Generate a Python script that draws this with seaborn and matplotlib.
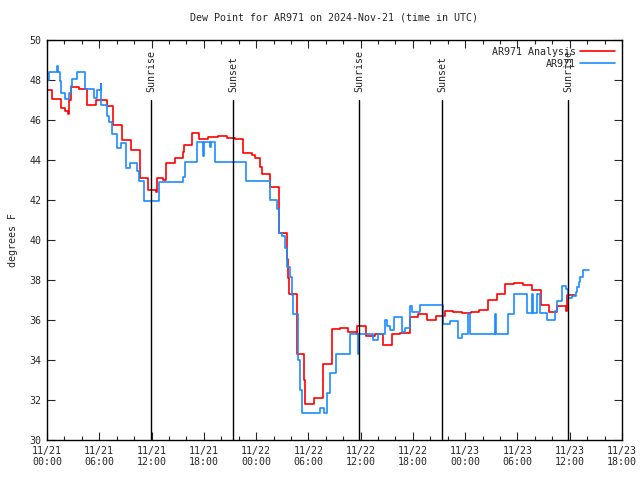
import numpy as np
import pandas as pd
import seaborn as sns
import matplotlib.pyplot as plt
from matplotlib.ticker import MultipleLocator

# hours since 2024-11-21 00:00 UTC, dew point in degrees F
analysis_hours = [0.0, 0.57, 1.57, 2.03, 2.41, 2.56, 2.72, 3.67, 4.56, 5.59, 6.85, 7.61, 8.57,
                  9.68, 10.67, 11.63, 12.48, 12.66, 13.35, 13.66, 14.69, 15.58, 15.73, 16.61,
                  17.48, 18.51, 19.66, 20.70, 21.58, 22.46, 23.50, 23.87, 24.45, 24.65, 25.60,
                  26.63, 27.51, 27.70, 27.78, 28.66, 29.53, 29.61, 30.68, 31.65, 32.68, 33.63,
                  34.58, 35.55, 35.62, 36.62, 37.65, 38.60, 39.56, 40.52, 41.67, 42.62, 43.65,
                  44.65, 45.68, 46.57, 47.60, 48.63, 49.62, 50.65, 51.69, 52.57, 53.60, 54.60,
                  55.63, 56.67, 57.66, 58.51, 59.57, 59.65, 60.61]
analysis_dewpt = [47.5, 47.05, 46.6, 46.45, 46.3, 47.0, 47.65, 47.55, 46.75, 47.0, 46.7, 45.75, 45.0,
                  44.5, 43.1, 42.5, 42.4, 43.1, 43.0, 43.85, 44.1, 44.4, 44.75, 45.35,
                  45.05, 45.15, 45.2, 45.1, 45.05, 44.35, 44.25, 44.1, 43.65, 43.3, 42.65,
                  40.35, 39.05, 38.1, 37.3, 34.3, 33.0, 31.8, 32.1, 33.8, 35.55, 35.6,
                  35.4, 35.3, 35.7, 35.2, 35.3, 34.75, 35.3, 35.35, 36.15, 36.3, 36.0,
                  36.2, 36.45, 36.4, 36.35, 36.4, 36.5, 37.0, 37.3, 37.8, 37.85, 37.75,
                  37.5, 36.75, 36.4, 36.7, 36.45, 37.25, 37.25]

station_hours = [0.0, 0.23, 1.03, 1.11, 1.23, 1.49, 1.61, 2.03, 2.53, 2.75, 2.90, 3.41, 4.33,
                 5.39, 5.70, 6.16, 6.23, 6.92, 7.06, 7.50, 8.00, 8.53, 9.03, 9.53, 10.30,
                 10.56, 11.13, 12.80, 15.65, 15.84, 17.25, 17.85, 17.97, 18.71, 18.88, 19.28,
                 22.84, 25.60, 26.37, 26.63, 26.94, 27.32, 27.58, 27.89, 28.09, 28.27, 28.85,
                 29.04, 29.23, 31.34, 31.83, 32.10, 32.48, 33.17, 34.78, 35.73, 35.85, 37.45,
                 37.99, 38.80, 38.99, 39.37, 39.83, 40.71, 41.09, 41.67, 41.84, 42.81, 45.42,
                 46.26, 47.21, 47.60, 48.36, 48.50, 51.42, 51.55, 52.95, 53.60, 55.13, 55.63,
                 55.78, 56.27, 56.58, 57.42, 58.31, 58.57, 59.08, 59.57, 59.84, 60.22, 60.71,
                 60.88, 61.06, 61.23, 61.48, 62.18]
station_dewpt = [48.0, 48.4, 48.4, 48.7, 48.4, 47.95, 47.35, 47.05, 47.35, 47.7, 48.05, 48.4, 47.55,
                 47.1, 47.5, 47.8, 46.75, 46.2, 45.9, 45.3, 44.6, 44.85, 43.6, 43.85, 43.45,
                 42.95, 41.95, 42.9, 43.15, 43.9, 44.9, 44.2, 44.9, 44.65, 44.9, 43.9,
                 42.95, 42.0, 41.55, 40.35, 40.2, 39.6, 38.65, 38.15, 37.25, 36.3, 34.0,
                 32.5, 31.35, 31.6, 31.35, 32.35, 33.35, 34.3, 35.3, 34.3, 35.3, 35.0,
                 35.3, 36.0, 35.7, 35.5, 36.15, 35.4, 35.6, 36.7, 36.4, 36.75, 35.8,
                 35.95, 35.1, 35.3, 36.3, 35.3, 36.3, 35.3, 36.3, 37.3, 36.35, 37.3,
                 36.35, 37.3, 36.35, 36.0, 36.45, 36.95, 37.7, 37.55, 37.1, 37.2, 37.4,
                 37.65, 37.9, 38.15, 38.5, 38.5]

sunrise_hours = [11.95, 35.85, 59.8]
sunset_hours = [21.35, 45.35]

tick_hours = list(range(0, 67, 6))
tick_labels = ["11/21\n00:00", "11/21\n06:00", "11/21\n12:00", "11/21\n18:00",
               "11/22\n00:00", "11/22\n06:00", "11/22\n12:00", "11/22\n18:00",
               "11/23\n00:00", "11/23\n06:00", "11/23\n12:00", "11/23\n18:00"]

df = pd.concat([
    pd.DataFrame({"hour": analysis_hours, "dewpt": analysis_dewpt, "series": "AR971 Analysis"}),
    pd.DataFrame({"hour": station_hours, "dewpt": station_dewpt, "series": "AR971"}),
])

sns.set_style("ticks")
plt.rcParams["font.family"] = ["DejaVu Sans Mono"]
plt.rcParams["font.size"] = 7.2

fig = plt.figure(figsize=(6.4, 4.8), dpi=100)
ax = fig.add_axes([47 / 640, 40 / 480, 575 / 640, 400 / 480])

sns.lineplot(data=df, x="hour", y="dewpt", hue="series", estimator=None, sort=False,
             palette={"AR971 Analysis": "#ff0000", "AR971": "#1a8cff"},
             drawstyle="steps-post", linewidth=1.2, ax=ax)

for h in sunrise_hours:
    ax.axvline(h, ymin=0, ymax=0.85, color="black", lw=1.0)
    ax.text(h, 47.4, "Sunrise", rotation=90, ha="center", va="bottom", fontsize=7.2)
for h in sunset_hours:
    ax.axvline(h, ymin=0, ymax=0.85, color="black", lw=1.0)
    ax.text(h, 47.4, "Sunset", rotation=90, ha="center", va="bottom", fontsize=7.2)

ax.set_xlim(0, 66)
ax.set_ylim(30, 50)
ax.set_xticks(tick_hours)
ax.set_xticklabels(tick_labels)
ax.xaxis.set_minor_locator(MultipleLocator(2))
ax.set_yticks(np.arange(30, 51, 2))
ax.tick_params(direction="in", top=True, right=True, length=6, width=0.8, labelsize=7.2, pad=4)
ax.tick_params(which="minor", direction="in", top=True, right=False, length=3, width=0.8)
for s in ax.spines.values():
    s.set_linewidth(1.0)
    s.set_color("black")

ax.set_xlabel("")
ax.set_ylabel("degrees F", fontsize=7.2, labelpad=8)
ax.set_title("Dew Point for AR971 on 2024-Nov-21 (time in UTC)", fontsize=7.2, pad=14)

ax.legend(loc="upper right", frameon=False, markerfirst=False, fontsize=7.2,
          handlelength=3.5, handletextpad=0.4, labelspacing=0.2, borderaxespad=0.3)

fig.savefig("out.png", dpi=100)
